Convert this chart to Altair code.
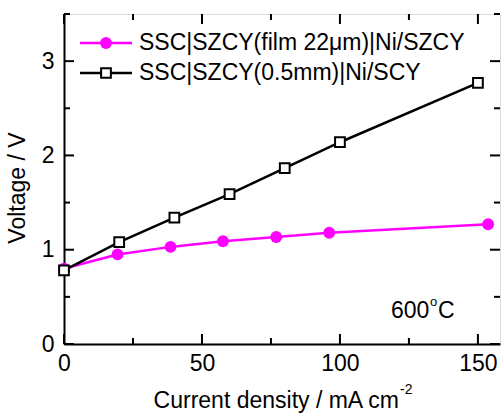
import altair as alt
import pandas as pd

# Data
film_x = [0, 19.4, 38.6, 57.6, 76.9, 96.1, 153.7]
film_y = [0.80, 0.95, 1.03, 1.09, 1.135, 1.18, 1.27]
thick_x = [0, 20, 40, 60, 80, 100, 150]
thick_y = [0.78, 1.08, 1.34, 1.59, 1.865, 2.14, 2.77]

x_major = [0, 50, 100, 150]
x_minor = [25, 75, 125]
y_major = [0, 1, 2, 3]
y_minor = [0.5, 1.5, 2.5, 3.5]

labels = ["SSC|SZCY(film 22\u03bcm)|Ni/SZCY", "SSC|SZCY(0.5mm)|Ni/SCY"]

W, H = 436, 330
FONT = "Liberation Sans"
FS = 23
MAGENTA = "#FF00FF"

xs = alt.Scale(domain=[0, 158], nice=False, zero=False)
ys = alt.Scale(domain=[0, 3.5], nice=False)

film = pd.DataFrame({"x": film_x, "y": film_y})
thick = pd.DataFrame({"x": thick_x, "y": thick_y})

x_axis = alt.Axis(values=x_major, tickSize=0, domainColor="black", domainWidth=2,
                  labelFont=FONT, labelFontSize=FS, labelColor="black", labelPadding=8,
                  labelFlush=False, grid=False, title=None, format="d")
y_axis = alt.Axis(values=y_major, tickSize=0, domainColor="black", domainWidth=2,
                  labelFont=FONT, labelFontSize=FS, labelColor="black", labelPadding=10,
                  grid=False, title=None, format="d")

base_film = alt.Chart(film)
film_line = base_film.mark_line(color=MAGENTA, strokeWidth=2.5).encode(
    x=alt.X("x:Q", scale=xs, axis=x_axis), y=alt.Y("y:Q", scale=ys, axis=y_axis))
film_pts = base_film.mark_point(shape="circle", filled=True, color=MAGENTA, size=140, opacity=1).encode(
    x=alt.X("x:Q", scale=xs), y=alt.Y("y:Q", scale=ys))

base_thick = alt.Chart(thick)
thick_line = base_thick.mark_line(color="black", strokeWidth=2.5).encode(
    x=alt.X("x:Q", scale=xs), y=alt.Y("y:Q", scale=ys))
thick_pts = base_thick.mark_point(shape="square", filled=True, fill="white", stroke="black",
                                  strokeWidth=2, size=95, opacity=1).encode(
    x=alt.X("x:Q", scale=xs), y=alt.Y("y:Q", scale=ys))

# Inward ticks on all four sides
xM = pd.DataFrame({"xt": x_major})
xm = pd.DataFrame({"xt": x_minor})
yM = pd.DataFrame({"yt": y_major})
ym = pd.DataFrame({"yt": y_minor})

def xticks(df, length):
    b = alt.Chart(df).mark_tick(color="black", thickness=2, size=length, orient="vertical",
                                opacity=1).encode(
        x=alt.X("xt:Q", scale=xs), y=alt.value(H - length / 2))
    t = alt.Chart(df).mark_tick(color="black", thickness=2, size=length, orient="vertical",
                                opacity=1).encode(
        x=alt.X("xt:Q", scale=xs), y=alt.value(length / 2))
    return [b, t]

def yticks(df, length):
    l = alt.Chart(df).mark_tick(color="black", thickness=2, size=length, orient="horizontal",
                                opacity=1).encode(
        y=alt.Y("yt:Q", scale=ys), x=alt.value(length / 2))
    r = alt.Chart(df).mark_tick(color="black", thickness=2, size=length, orient="horizontal",
                                opacity=1).encode(
        y=alt.Y("yt:Q", scale=ys), x=alt.value(W - length / 2))
    return [l, r]

ticks = xticks(xM, 10) + xticks(xm, 6) + yticks(yM, 10) + yticks(ym, 6)

# Legend
leg_y = [29, 59]
legend_layers = []
for i, lab in enumerate(labels):
    d = pd.DataFrame({"label": [lab]})
    col = MAGENTA if i == 0 else "black"
    legend_layers.append(alt.Chart(d).mark_rule(color=col, strokeWidth=2.5).encode(
        x=alt.value(16), x2=alt.value(68), y=alt.value(leg_y[i])))
    if i == 0:
        legend_layers.append(alt.Chart(d).mark_point(shape="circle", filled=True, color=MAGENTA,
                                                     size=140, opacity=1).encode(
            x=alt.value(42), y=alt.value(leg_y[i])))
    else:
        legend_layers.append(alt.Chart(d).mark_point(shape="square", filled=True, fill="white",
                                                     stroke="black", strokeWidth=2, size=95,
                                                     opacity=1).encode(
            x=alt.value(42), y=alt.value(leg_y[i])))
    legend_layers.append(alt.Chart(d).mark_text(font=FONT, fontSize=FS, align="left",
                                                baseline="middle", color="black").encode(
        x=alt.value(75), y=alt.value(leg_y[i]), text="label:N"))

# Annotations and titles
def txt(s, x, y, size=FS, align="left", baseline="alphabetic", angle=0):
    return alt.Chart(pd.DataFrame({"t": [s]})).mark_text(
        font=FONT, fontSize=size, align=align, baseline=baseline, angle=angle, color="black"
    ).encode(x=alt.value(x), y=alt.value(y), text="t:N")

annots = [
    txt("600", 327, 304),
    txt("o", 366, 292, size=13),
    txt("C", 374, 304),
    txt("Current density / mA cm", 335, 394, align="right"),
    txt("-2", 336, 380, size=14),
    txt("Voltage / V", -39, 174, align="center", baseline="alphabetic", angle=270),
]

chart = alt.layer(
    film_line, film_pts, thick_line, thick_pts, *ticks, *legend_layers, *annots
).properties(
    width=W, height=H,
    autosize=alt.AutoSizeParams(type="none"),
    padding={"left": 64, "top": 14, "right": 1, "bottom": 69},
).configure_view(stroke="black", strokeWidth=2).configure(background="white")

chart.save("out.html", embed_options={"renderer": "svg", "actions": False})
